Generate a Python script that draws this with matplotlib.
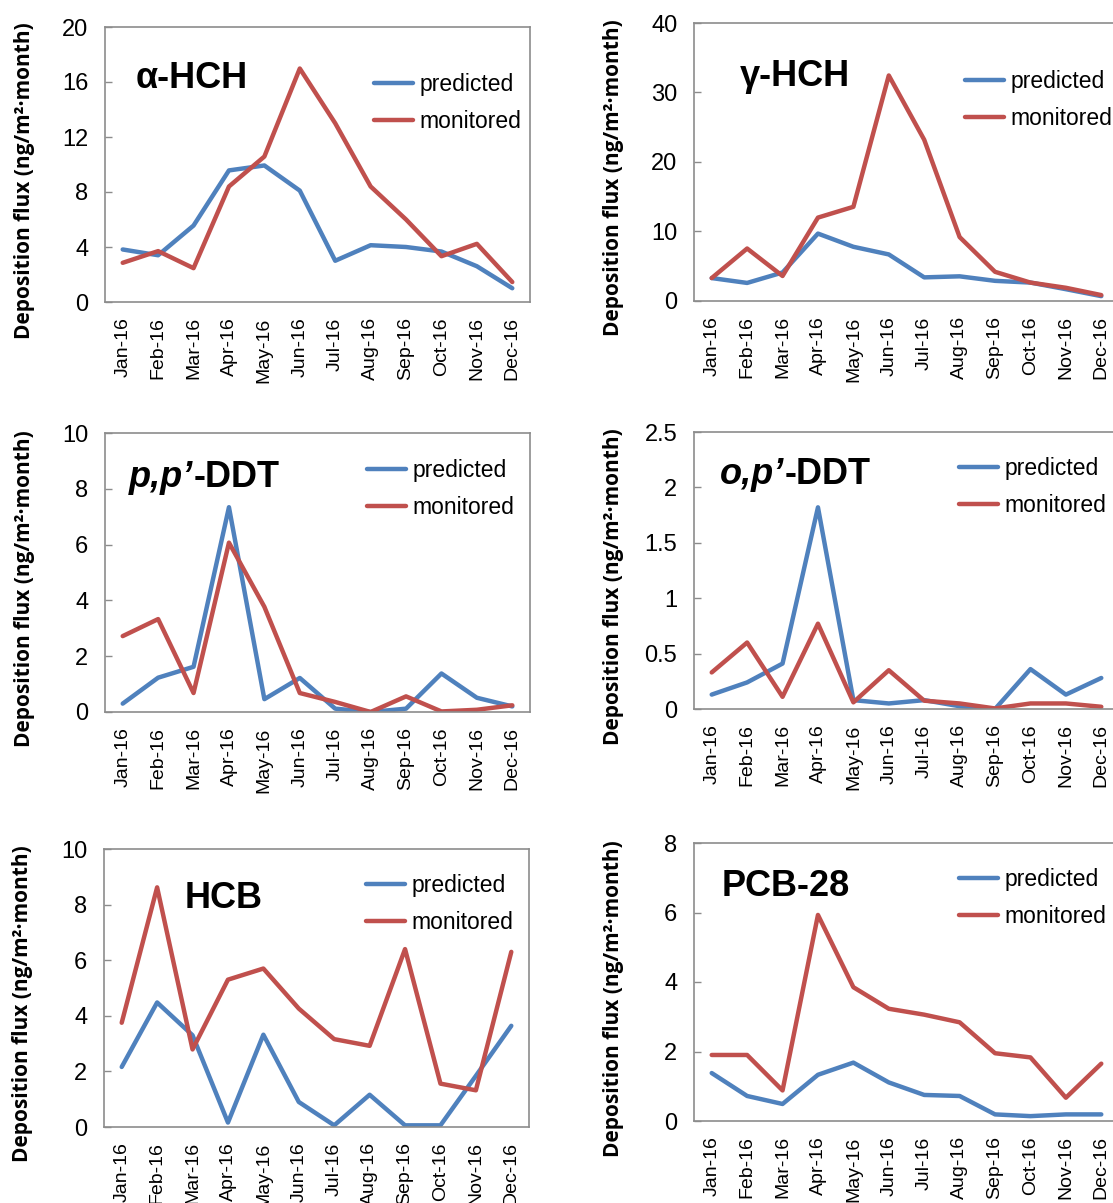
import matplotlib
matplotlib.use("Agg")
import matplotlib.pyplot as plt
from matplotlib.ticker import FuncFormatter

# month labels
months = ["Jan-16", "Feb-16", "Mar-16", "Apr-16", "May-16", "Jun-16",
          "Jul-16", "Aug-16", "Sep-16", "Oct-16", "Nov-16", "Dec-16"]

# deposition flux, ng/m2.month
ahch_pred = [3.82, 3.4, 5.56, 9.57, 9.93, 8.1, 3.0, 4.13, 4.0, 3.67, 2.6, 1.0]
ahch_mon = [2.85, 3.7, 2.46, 8.4, 10.58, 16.98, 13.0, 8.4, 6.0, 3.33, 4.23, 1.45]

ghch_pred = [3.3, 2.6, 4.1, 9.7, 7.8, 6.7, 3.4, 3.55, 2.9, 2.65, 1.7, 0.7]
ghch_mon = [3.3, 7.55, 3.6, 12.0, 13.55, 32.45, 23.2, 9.2, 4.2, 2.65, 1.9, 0.85]

ppddt_pred = [0.3, 1.23, 1.62, 7.34, 0.46, 1.22, 0.12, 0.0, 0.12, 1.38, 0.51, 0.2]
ppddt_mon = [2.72, 3.33, 0.68, 6.07, 3.77, 0.68, 0.36, 0.0, 0.56, 0.02, 0.08, 0.24]

opddt_pred = [0.13, 0.24, 0.41, 1.82, 0.08, 0.05, 0.08, 0.025, 0.0, 0.36, 0.13, 0.28]
opddt_mon = [0.33, 0.6, 0.11, 0.77, 0.06, 0.35, 0.075, 0.05, 0.005, 0.05, 0.05, 0.02]

hcb_pred = [2.16, 4.48, 3.3, 0.16, 3.32, 0.9, 0.06, 1.16, 0.06, 0.06, 1.84, 3.64]
hcb_mon = [3.75, 8.62, 2.79, 5.3, 5.7, 4.26, 3.16, 2.92, 6.4, 1.56, 1.32, 6.3]

pcb_pred = [1.38, 0.72, 0.49, 1.33, 1.68, 1.11, 0.75, 0.72, 0.19, 0.14, 0.19, 0.19]
pcb_mon = [1.9, 1.9, 0.88, 5.93, 3.85, 3.23, 3.06, 2.84, 1.95, 1.83, 0.67, 1.65]

W, H = 1113, 1203
BLUE = "#4F81BD"
RED = "#C0504D"
GREY = "#8C8C8C"

fig = plt.figure(figsize=(W / 100, H / 100), dpi=100)
fig.patch.set_facecolor("white")

def fx(px):
    return px / W

def fy(py):
    return 1 - py / H

# (pred, mon, ymax, ystep, title parts, axes box px, legend px, title px, ylabel px)
panels = [
    (ahch_pred, ahch_mon, 20, 4, [("α-HCH", "normal")], (105, 530, 27, 302), (374, 103), (136, 78), (25, 181)),
    (ghch_pred, ghch_mon, 40, 10, [("γ-HCH", "normal")], (694, 1119, 23, 301), (965, 100), (740, 77), (613, 178)),
    (ppddt_pred, ppddt_mon, 10, 2, [("p,p’", "italic"), ("-DDT", "normal")], (105, 530, 433, 712), (367, 489), (129, 477), (25, 589)),
    (opddt_pred, opddt_mon, 2.5, 0.5, [("o,p’", "italic"), ("-DDT", "normal")], (694, 1119, 432, 709), (959, 487), (720, 474), (613, 587)),
    (hcb_pred, hcb_mon, 10, 2, [("HCB", "normal")], (104, 529, 849, 1127), (366, 904), (185, 898), (23, 1004)),
    (pcb_pred, pcb_mon, 8, 2, [("PCB-28", "normal")], (694, 1119, 843, 1121), (959, 898), (722, 886), (613, 999)),
]

x = list(range(len(months)))

for pred, mon, ymax, ystep, title, box, leg, tpos, ylab in panels:
    l, r, t, b = box
    ax = fig.add_axes([fx(l), fy(b), (r - l) / W, (b - t) / H])
    ax.plot(x, pred, color=BLUE, lw=3.2, solid_capstyle="round", label="predicted")
    ax.plot(x, mon, color=RED, lw=3.2, solid_capstyle="round", label="monitored")
    ax.set_xlim(-0.5, 11.5)
    ax.set_ylim(0, ymax)
    nt = int(round(ymax / ystep))
    ax.set_yticks([i * ystep for i in range(nt + 1)])
    ax.yaxis.set_major_formatter(FuncFormatter(lambda v, p: "{:g}".format(v)))
    ax.set_xticks(x)
    ax.set_xticklabels(months, rotation=90, fontsize=14, family="Liberation Sans")
    for lab in ax.get_yticklabels():
        lab.set_family("Liberation Sans")
    ax.tick_params(axis="y", direction="in", length=5, width=1, color=GREY,
                   labelsize=17, pad=12)
    ax.tick_params(axis="x", length=0, pad=11)
    for s in ax.spines.values():
        s.set_color(GREY)
        s.set_linewidth(1.2)
    ax.legend(loc="center left", bbox_to_anchor=(fx(leg[0]), fy(leg[1])),
              bbox_transform=fig.transFigure, frameon=False, borderpad=0,
              borderaxespad=0, handlelength=1.7, handletextpad=0.3,
              labelspacing=0.62, prop={"family": "Liberation Sans", "size": 16.5})

    # panel title, italic part then upright part
    prev = None
    for txt, style in title:
        if prev is None:
            prev = fig.text(fx(tpos[0]), fy(tpos[1]), txt, fontsize=26,
                            fontweight="bold", style=style, family="Liberation Sans",
                            ha="left", va="center")
        else:
            prev = ax.annotate(txt, xy=(1, 0), xycoords=prev, fontsize=26,
                               fontweight="bold", style=style, family="Liberation Sans",
                               ha="left", va="bottom")

    fig.text(fx(ylab[0]), fy(ylab[1]), "Deposition flux (ng/m²·month)", rotation=90,
             ha="center", va="center", fontsize=15, fontweight="bold", family="Open Sans")

fig.savefig("out.png", dpi=100)
